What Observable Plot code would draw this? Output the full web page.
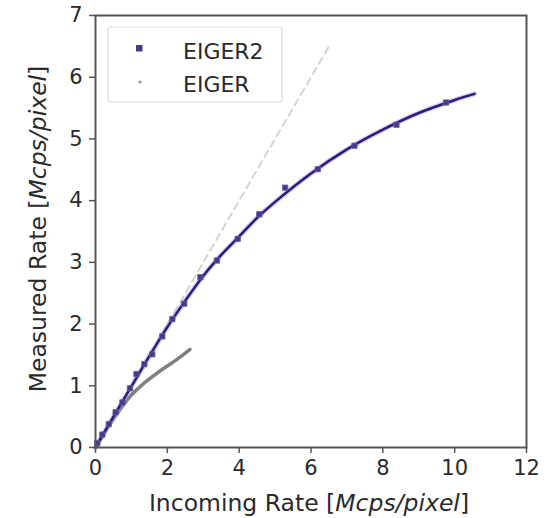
<!DOCTYPE html>
<html>
<head>
<meta charset="utf-8">
<script src="https://cdn.jsdelivr.net/npm/d3@7"></script>
<script src="https://cdn.jsdelivr.net/npm/@observablehq/plot@0.6"></script>
<style>
  html, body { margin: 0; padding: 0; background: #fff; }
  #chart { width: 551px; height: 518px; }
</style>
</head>
<body>
<div id="chart"></div>
<script>
// EIGER2 measured points
const eiger2X = [0.05, 0.19, 0.37, 0.56, 0.75, 0.96, 1.14, 1.36, 1.58, 1.86, 2.14, 2.47, 2.92, 3.38, 3.96, 4.56, 5.28, 6.19, 7.21, 8.38, 9.76];
const eiger2Y = [0.07, 0.21, 0.38, 0.57, 0.73, 0.96, 1.19, 1.35, 1.51, 1.80, 2.08, 2.33, 2.76, 3.03, 3.38, 3.78, 4.21, 4.51, 4.89, 5.23, 5.59];
// EIGER2 fitted curve
const fit2X = [0, 0.5, 1, 1.5, 2, 2.5, 3, 3.5, 4, 4.5, 5, 6, 7, 8, 9, 10, 10.55];
const fit2Y = [0, 0.5, 0.99, 1.48, 1.95, 2.38, 2.78, 3.12, 3.42, 3.72, 3.98, 4.44, 4.83, 5.15, 5.42, 5.63, 5.73];
// EIGER curve
const eigerX = [0, 0.25, 0.5, 0.75, 1, 1.25, 1.5, 1.75, 2, 2.25, 2.5, 2.63];
const eigerY = [0, 0.24, 0.46, 0.67, 0.85, 0.99, 1.11, 1.22, 1.32, 1.42, 1.53, 1.59];
// ideal (no dead time) reference line
const idealX = [0, 6.55];
const idealY = [0, 6.55];
// ticks and labels
const xTicks = [0, 2, 4, 6, 8, 10, 12];
const yTicks = [0, 1, 2, 3, 4, 5, 6, 7];
const xLabelParts = [["Incoming Rate [", "normal"], ["Mcps/pixel", "italic"], ["]", "normal"]];
const yLabelParts = [["Measured Rate [", "normal"], ["Mcps/pixel", "italic"], ["]", "normal"]];
const legendNames = ["EIGER2", "EIGER"];

const pts = eiger2X.map((x, i) => ({x, y: eiger2Y[i]}));
const fit = fit2X.map((x, i) => ({x, y: fit2Y[i]}));
const eig = eigerX.map((x, i) => ({x, y: eigerY[i]}));
const ideal = idealX.map((x, i) => ({x, y: idealY[i]}));

const FONT = "DejaVu Sans";
const axisColor = "#555";
const textColor = "#2a2a2a";

const plot = Plot.plot({
  width: 551,
  height: 518,
  marginTop: 15,
  marginBottom: 71,
  marginLeft: 95,
  marginRight: 25,
  style: {fontFamily: FONT, fontSize: "22px", background: "#fff", color: textColor},
  x: {domain: [0, 12]},
  y: {domain: [0, 7]},
  marks: [
    Plot.line(ideal, {x: "x", y: "y", stroke: "#d4d4d4", strokeWidth: 2, strokeDasharray: "7,5"}),
    Plot.line(eig, {x: "x", y: "y", stroke: "#808080", strokeWidth: 3.5, curve: "catmull-rom"}),
    Plot.line(fit, {x: "x", y: "y", stroke: "#a58be6", strokeWidth: 5, strokeOpacity: 0.45, curve: "catmull-rom"}),
    Plot.line(fit, {x: "x", y: "y", stroke: "#2f1a78", strokeWidth: 2.5, curve: "catmull-rom"}),
    Plot.dot(pts, {x: "x", y: "y", symbol: "square", r: 3, fill: "#4a3a85", stroke: "#6a58a8", strokeWidth: 0.8}),
    Plot.frame({stroke: axisColor, strokeWidth: 2}),
    Plot.axisX({ticks: xTicks, tickFormat: "d", tickSize: 6, tickPadding: 7, fontSize: 22, stroke: axisColor, strokeWidth: 1.5, fill: textColor, label: null}),
    Plot.axisY({ticks: yTicks, tickFormat: "d", tickSize: 6, tickPadding: 7, fontSize: 22, stroke: axisColor, strokeWidth: 1.5, fill: textColor, label: null})
  ]
});
document.getElementById("chart").appendChild(plot);

const svg = d3.select(plot);
// enlarge tick labels
svg.selectAll('g[aria-label$="tick label"]').attr("font-size", 21).style("font-size", "21px");
svg.selectAll('g[aria-label$="tick label"] text').attr("font-size", 21).style("font-size", "21px");

// x label
const xl = svg.append("text")
  .attr("x", 309).attr("y", 511)
  .attr("text-anchor", "middle")
  .attr("font-family", FONT).attr("font-size", 23.5).attr("fill", textColor);
xLabelParts.forEach(([t, s]) => xl.append("tspan").attr("font-style", s).text(t));
// y label
const yl = svg.append("text")
  .attr("transform", "translate(46,229) rotate(-90)")
  .attr("text-anchor", "middle")
  .attr("font-family", FONT).attr("font-size", 23.5).attr("fill", textColor);
yLabelParts.forEach(([t, s]) => yl.append("tspan").attr("font-style", s).text(t));

// legend
const lg = svg.append("g").attr("text-anchor", "start");
lg.append("rect").attr("x", 108).attr("y", 27).attr("width", 174).attr("height", 75)
  .attr("rx", 3).attr("fill", "#fff").attr("fill-opacity", 0.85).attr("stroke", "#dcdcdc").attr("stroke-width", 1.2);
lg.append("rect").attr("x", 136).attr("y", 45).attr("width", 6.5).attr("height", 6.5).attr("fill", "#4a3a85");
lg.append("circle").attr("cx", 140).attr("cy", 82).attr("r", 1.6).attr("fill", "#999");
legendNames.forEach((n, i) => {
  lg.append("text").attr("x", 183).attr("y", 53 + i * 33)
    .attr("text-anchor", "start")
    .attr("dominant-baseline", "middle")
    .attr("font-family", FONT).attr("font-size", 22).attr("fill", textColor).text(n);
});
</script>
</body>
</html>
